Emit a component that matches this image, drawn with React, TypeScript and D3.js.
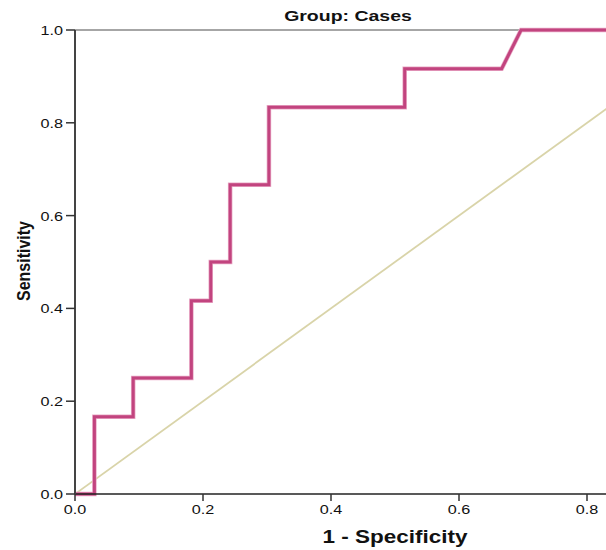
import React from "react";
import * as d3 from "d3";

const fprValues = [0, 1 / 33, 1 / 33, 3 / 33, 3 / 33, 6 / 33, 6 / 33, 7 / 33, 7 / 33, 8 / 33, 8 / 33, 10 / 33, 10 / 33, 17 / 33, 17 / 33, 22 / 33, 23 / 33, 1];
const tprValues = [0, 0, 2 / 12, 2 / 12, 3 / 12, 3 / 12, 5 / 12, 5 / 12, 6 / 12, 6 / 12, 8 / 12, 8 / 12, 10 / 12, 10 / 12, 11 / 12, 11 / 12, 1, 1];
const refLine = [0, 1];
const xTicks = [0, 0.2, 0.4, 0.6, 0.8];
const yTicks = [0, 0.2, 0.4, 0.6, 0.8, 1.0];
const title = "Group: Cases";
const xLabel = "1 - Specificity";
const yLabel = "Sensitivity";

function SText(props: { x: number; y: number; sx: number; anchor: string; size: number; bold?: boolean; children: string }) {
  return (
    <text
      transform={`translate(${props.x},${props.y}) scale(${props.sx},1)`}
      textAnchor={props.anchor}
      fontSize={props.size}
      fontWeight={props.bold ? "bold" : "normal"}
      fill="#111"
    >
      {props.children}
    </text>
  );
}

export default function App() {
  const W = 606, H = 550;
  const left = 75, top = 30, bottom = 494;
  const x = d3.scaleLinear().domain([0, 1]).range([left, left + 640]);
  const y = d3.scaleLinear().domain([0, 1]).range([bottom, top]);
  const pts = fprValues.map((v, i) => [v, tprValues[i]] as [number, number]);
  const line = d3.line<[number, number]>().x(d => x(d[0])).y(d => y(d[1]));
  const font = "Arial, 'Liberation Sans', sans-serif";
  return (
    <svg width={W} height={H} style={{ position: "absolute", left: 0, top: 0, background: "#fff" }} fontFamily={font}>
      <defs>
        <clipPath id="clip"><rect x={left} y={top - 5} width={W - left} height={bottom - top + 10} /></clipPath>
      </defs>
      <SText x={348} y={21} sx={1.3} anchor="middle" size={15} bold>{title}</SText>
      <line x1={left} x2={W} y1={top} y2={top} stroke="#888" strokeWidth={1.5} />
      <g clipPath="url(#clip)">
        <line x1={x(refLine[0])} y1={y(refLine[0])} x2={x(refLine[1])} y2={y(refLine[1])} stroke="#D9D4A9" strokeWidth={1.8} />
        <path d={line(pts) || ""} fill="none" stroke="#E9A9C6" strokeWidth={4.5} strokeLinejoin="miter" />
        <path d={line(pts) || ""} fill="none" stroke="#C2447F" strokeWidth={3} strokeLinejoin="miter" />
      </g>
      <line x1={left} x2={W} y1={bottom} y2={bottom} stroke="#222" strokeWidth={1.5} />
      <line x1={left} x2={left} y1={top} y2={bottom} stroke="#444" strokeWidth={2} />
      {yTicks.map(t => (
        <g key={"y" + t}>
          <line x1={left - 9} x2={left} y1={y(t)} y2={y(t)} stroke="#333" strokeWidth={1.5} />
          <SText x={left - 12} y={y(t) + 5} sx={1.35} anchor="end" size={12}>{t.toFixed(1)}</SText>
        </g>
      ))}
      {xTicks.map(t => (
        <g key={"x" + t}>
          <line x1={x(t)} x2={x(t)} y1={bottom} y2={bottom + 7} stroke="#333" strokeWidth={1.5} />
          <SText x={x(t)} y={bottom + 20} sx={1.35} anchor="middle" size={12}>{t.toFixed(1)}</SText>
        </g>
      ))}
      <SText x={395} y={543} sx={1.25} anchor="middle" size={18} bold>{xLabel}</SText>
      <text transform={`translate(30,261) rotate(-90) scale(1,1.15)`} textAnchor="middle" fontWeight="bold" fontSize={16} fill="#111">{yLabel}</text>
    </svg>
  );
}
